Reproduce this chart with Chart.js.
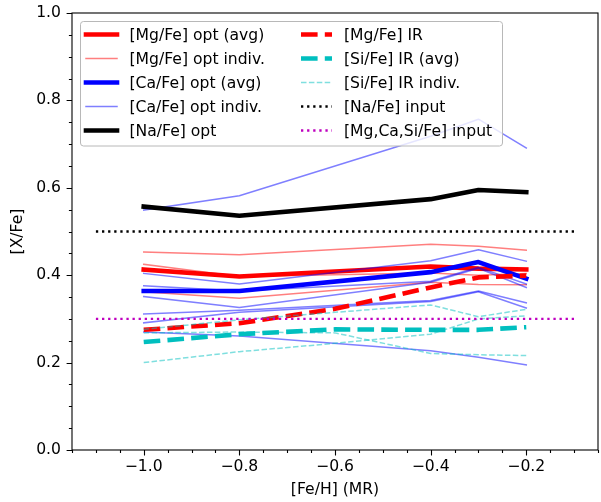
<!DOCTYPE html>
<html>
<head>
<meta charset="utf-8">
<script src="https://cdn.jsdelivr.net/npm/chart.js@4.4.0/dist/chart.umd.min.js"></script>
<style>
  html, body { margin: 0; padding: 0; background: #fff; }
  #wrap { width: 601px; height: 502px; }
</style>
</head>
<body>
<div id="wrap"><canvas id="chart" width="601" height="502"></canvas></div>
<script>
// [Fe/H] grid for the optical runs and the IR runs
const feH = [-1.0, -0.8, -0.4, -0.3, -0.2];
const feHIR = [-1.0, -0.8, -0.6, -0.4, -0.3, -0.2];
const inputRange = [-1.1, -0.1];

// optical
const mgOptAvg = [0.413, 0.397, 0.420, 0.415, 0.413];
const mgOptIndiv = [
  [0.453, 0.447, 0.471, 0.466, 0.457],
  [0.425, 0.397, 0.405, 0.400, 0.404],
  [0.362, 0.347, 0.384, 0.379, 0.378]
];
const caOptAvg = [0.364, 0.364, 0.407, 0.430, 0.392];
const caOptIndiv = [
  [0.549, 0.582, 0.718, 0.757, 0.691],
  [0.404, 0.380, 0.433, 0.458, 0.432],
  [0.376, 0.364, 0.386, 0.418, 0.380],
  [0.351, 0.326, 0.384, 0.416, 0.372],
  [0.311, 0.320, 0.342, 0.364, 0.337],
  [0.291, 0.315, 0.340, 0.362, 0.325],
  [0.270, 0.261, 0.227, 0.212, 0.195]
];
const naOpt = [0.557, 0.536, 0.574, 0.595, 0.590];

// IR
const mgIR = [0.275, 0.290, 0.323, 0.372, 0.395, 0.399];
const siIRAvg = [0.247, 0.265, 0.276, 0.275, 0.275, 0.281];
const siIRIndiv = [
  [0.276, 0.298, 0.315, 0.332, 0.305, 0.322],
  [0.268, 0.270, 0.268, 0.221, 0.218, 0.216],
  [0.200, 0.225, 0.244, 0.265, 0.300, 0.307]
];

// input abundances
const naInput = 0.5;
const alphaInput = 0.3;

const xTicks = [-1.0, -0.8, -0.6, -0.4, -0.2];
const yTicks = [0.0, 0.2, 0.4, 0.6, 0.8, 1.0];

const legendLabels = [
  "[Mg/Fe] opt (avg)", "[Mg/Fe] opt indiv.", "[Ca/Fe] opt (avg)", "[Ca/Fe] opt indiv.", "[Na/Fe] opt",
  "[Mg/Fe] IR", "[Si/Fe] IR (avg)", "[Si/Fe] IR indiv.", "[Na/Fe] input", "[Mg,Ca,Si/Fe] input"
];

const FONT = "DejaVu Sans";
const FS = 15.6;
const THICK = 4.6, THIN = 1.5, DOT = 2.3;
const DASH = [16.6, 7.2], DASH_THIN = [5.5, 2.4], DOTS = [2.3, 3.8];

const styles = [
  { color: "#ff0000", width: THICK, dash: [], cap: "square" },
  { color: "rgba(255,0,0,0.5)", width: THIN, dash: [], cap: "square" },
  { color: "#0000ff", width: THICK, dash: [], cap: "square" },
  { color: "rgba(0,0,255,0.5)", width: THIN, dash: [], cap: "square" },
  { color: "#000000", width: THICK, dash: [], cap: "square" },
  { color: "#ff0000", width: THICK, dash: DASH, cap: "butt" },
  { color: "#00bfbf", width: THICK, dash: DASH, cap: "butt" },
  { color: "rgba(0,191,191,0.5)", width: THIN, dash: DASH_THIN, cap: "butt" },
  { color: "#000000", width: DOT, dash: DOTS, cap: "butt" },
  { color: "#bf00bf", width: DOT, dash: DOTS, cap: "butt" }
];

function pts(xs, ys) {
  return xs.map((x, i) => ({ x: x, y: ys[i] }));
}

const datasets = [];
function addLine(styleIdx, data) {
  const s = styles[styleIdx];
  datasets.push({
    data: data,
    borderColor: s.color,
    borderWidth: s.width,
    borderDash: s.dash,
    borderCapStyle: s.cap,
    borderJoinStyle: "round",
    pointRadius: 0,
    fill: false,
    tension: 0,
    order: -datasets.length
  });
}

addLine(0, pts(feH, mgOptAvg));
mgOptIndiv.forEach(ys => addLine(1, pts(feH, ys)));
addLine(2, pts(feH, caOptAvg));
caOptIndiv.forEach(ys => addLine(3, pts(feH, ys)));
addLine(4, pts(feH, naOpt));
addLine(5, pts(feHIR, mgIR));
addLine(6, pts(feHIR, siIRAvg));
siIRIndiv.forEach(ys => addLine(7, pts(feHIR, ys)));
addLine(8, pts(inputRange, [naInput, naInput]));
addLine(9, pts(inputRange, [alphaInput, alphaInput]));

function fmt(v) {
  return v.toFixed(1).replace("-", "\u2212");
}

// frame + major/minor ticks, matplotlib style
const framePlugin = {
  id: "frame",
  afterDatasetsDraw(chart) {
    const { ctx, chartArea: a, scales } = chart;
    ctx.save();
    ctx.strokeStyle = "#000";
    ctx.lineWidth = 1.1;
    ctx.setLineDash([]);
    ctx.strokeRect(a.left, a.top, a.right - a.left, a.bottom - a.top);
    ctx.beginPath();
    for (let i = -23; i <= -1; i++) {
      const v = i * 0.05;
      const px = Math.round(scales.x.getPixelForValue(v)) + 0.5;
      const len = (i % 4 === 0) ? 5.4 : 3.1;
      ctx.moveTo(px, a.bottom);
      ctx.lineTo(px, a.bottom + len);
    }
    for (let i = 0; i <= 20; i++) {
      const v = i * 0.05;
      const py = Math.round(scales.y.getPixelForValue(v)) + 0.5;
      const len = (i % 4 === 0) ? 5.4 : 3.1;
      ctx.moveTo(a.left, py);
      ctx.lineTo(a.left - len, py);
    }
    ctx.stroke();
    ctx.restore();
  }
};

// two-column legend inside the axes, top left
const legendPlugin = {
  id: "boxLegend",
  afterDraw(chart) {
    const ctx = chart.ctx;
    const box = { x: 80, y: 21, w: 422, h: 124.5, r: 3 };
    ctx.save();
    ctx.beginPath();
    ctx.roundRect(box.x + 0.5, box.y + 0.5, box.w, box.h, box.r);
    ctx.fillStyle = "rgba(255,255,255,0.8)";
    ctx.fill();
    ctx.strokeStyle = "#b8b8b8";
    ctx.lineWidth = 1;
    ctx.stroke();

    const cols = [{ hx: 86, tx: 129.5 }, { hx: 301, tx: 344 }];
    const handleLen = 31;
    ctx.font = FS + "px '" + FONT + "'";
    ctx.textBaseline = "middle";
    ctx.fillStyle = "#000";
    legendLabels.forEach((label, i) => {
      const col = cols[Math.floor(i / 5)];
      const y = 34.5 + (i % 5) * 24;
      const s = styles[i];
      ctx.beginPath();
      ctx.strokeStyle = s.color;
      ctx.lineWidth = s.width;
      ctx.lineCap = s.cap;
      ctx.setLineDash(s.dash);
      ctx.moveTo(col.hx, y);
      ctx.lineTo(col.hx + handleLen, y);
      ctx.stroke();
      ctx.setLineDash([]);
      ctx.fillText(label, col.tx, y + 1);
    });
    ctx.restore();
  }
};

const tickFont = { family: FONT, size: FS };

new Chart(document.getElementById("chart"), {
  type: "line",
  data: { datasets: datasets },
  options: {
    responsive: false,
    animation: false,
    devicePixelRatio: 1,
    layout: { padding: { top: 13, right: 3, left: 0, bottom: 0 } },
    plugins: { legend: { display: false }, tooltip: { enabled: false } },
    scales: {
      x: {
        type: "linear",
        min: -1.15,
        max: -0.05,
        grid: { display: false, drawTicks: false },
        border: { display: false },
        afterBuildTicks: s => { s.ticks = xTicks.map(v => ({ value: v })); },
        ticks: { padding: 8, color: "#000", font: tickFont, maxRotation: 0, autoSkip: false, callback: v => fmt(v) },
        title: { display: true, text: "[Fe/H] (MR)", color: "#000", font: tickFont, padding: { top: 0, bottom: 3 } },
        afterFit: s => { s.height = 52; s.paddingLeft = 0; s.paddingRight = 0; }
      },
      y: {
        type: "linear",
        min: 0,
        max: 1,
        grid: { display: false, drawTicks: false },
        border: { display: false },
        afterBuildTicks: s => { s.ticks = yTicks.map(v => ({ value: v })); },
        ticks: { padding: 11, color: "#000", font: tickFont, autoSkip: false, callback: v => fmt(v) },
        title: { display: true, text: "[X/Fe]", color: "#000", font: tickFont, padding: { top: 9, bottom: 0 } },
        afterFit: s => { s.width = 72; s.paddingTop = 0; s.paddingBottom = 0; }
      }
    }
  },
  plugins: [framePlugin, legendPlugin]
});
</script>
</body>
</html>
